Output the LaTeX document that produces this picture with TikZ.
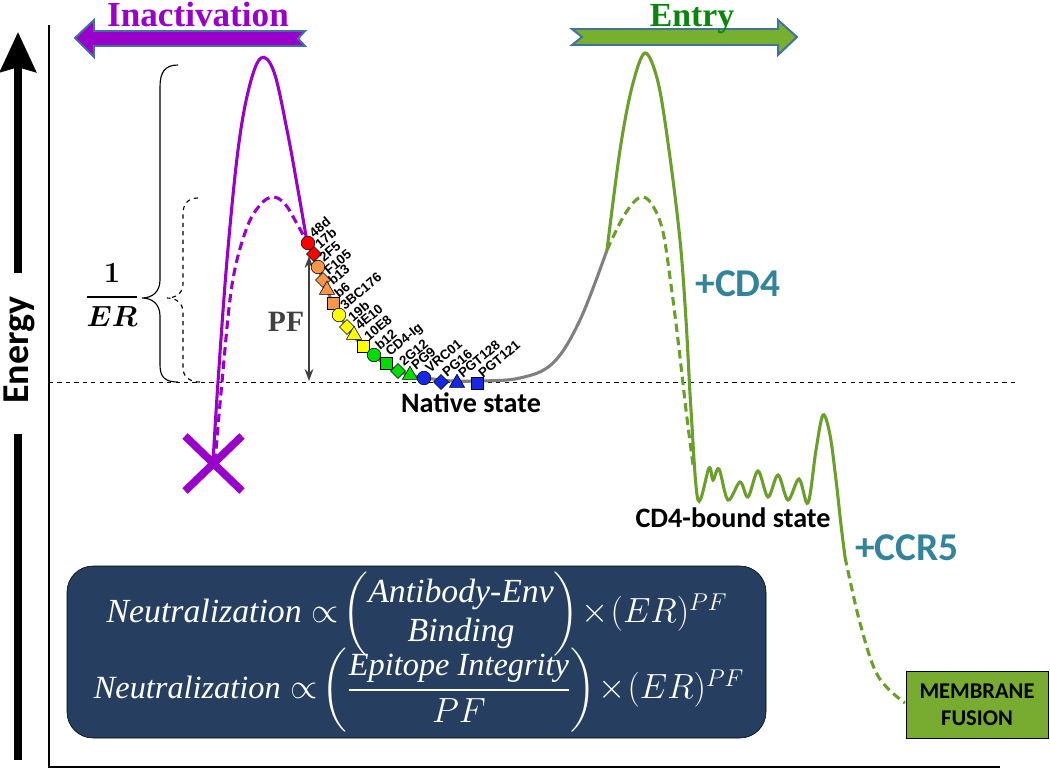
\documentclass[tikz,border=0pt]{standalone}
\usepackage{amsmath}
\usepackage{fontspec}
\setmainfont{Liberation Serif}
\newfontfamily\calib{Carlito}
\newfontfamily\arial{Liberation Sans}
\usetikzlibrary{arrows.meta,shapes.geometric}
\definecolor{inpurple}{RGB}{153,0,204}
\definecolor{arrowblue}{RGB}{65,113,156}
\definecolor{entryfill}{RGB}{118,176,46}
\definecolor{entrytext}{RGB}{10,135,10}
\definecolor{curvegreen}{RGB}{106,160,42}
\definecolor{addteal}{RGB}{49,132,155}
\definecolor{boxnavy}{RGB}{38,62,95}
\definecolor{fusion}{RGB}{119,172,48}
\definecolor{mred}{RGB}{255,0,0}
\definecolor{morange}{RGB}{247,150,70}
\definecolor{myellow}{RGB}{255,255,0}
\definecolor{mgreen}{RGB}{0,220,0}
\definecolor{mblue}{RGB}{20,40,230}

\begin{document}
\begin{tikzpicture}[x=0.025cm,y=-0.025cm,
	mk/.style={draw=black,line width=0.4pt,inner sep=0pt},
	mc/.style={mk,circle,minimum size=0.34cm},
	md/.style={mk,diamond,minimum size=0.38cm},
	mt/.style={mk,regular polygon,regular polygon sides=3,minimum size=0.44cm},
	ms/.style={mk,rectangle,minimum size=0.3cm},
	mlabel/.style={font=\arial\bfseries\fontsize{9.5}{10}\selectfont,rotate=40,anchor=south west,inner sep=0.5pt},
	bigarrow/.style={draw=arrowblue,line width=1.4pt},
	curve/.style={line width=2.2pt,line cap=round},
	dcurve/.style={line width=2.2pt,dash pattern=on 6pt off 3.5pt},
	state/.style={font=\calib\bfseries\fontsize{20}{22}\selectfont},
	adds/.style={font=\calib\bfseries\fontsize{28}{30}\selectfont,text=addteal}]
	\useasboundingbox (0,0) rectangle (1050,770);
	% axes and baseline
	\draw[line width=1.1pt] (49,25) -- (49,767) -- (1000,767);
	\draw[dashed,line width=0.6pt] (49,382) -- (1015,382);
	\node[font=\calib\bfseries\fontsize{27}{30}\selectfont,rotate=90] (energy) at (19,350) {Energy};
	\draw[line width=5pt] (18,760) -- (18,434);
	\draw[line width=5pt,-{Stealth[length=1cm,width=0.9cm,inset=0.12cm]}] (18,273) -- (18,32);
	% direction arrows
	\draw[bigarrow,fill=inpurple] (75,38) -- (94,20) -- (94,31) -- (305,31) -- (298,38.5) -- (305,46) -- (94,46) -- (94,57) -- cycle;
	\node[font=\bfseries\fontsize{25}{30}\selectfont,text=inpurple,anchor=base,inner sep=1pt] (inact) at (198,26) {Inactivation};
	\draw[bigarrow,fill=entryfill] (797,37) -- (778,20) -- (778,29) -- (572,29) -- (582,37) -- (572,45) -- (778,45) -- (778,55) -- cycle;
	\node[font=\bfseries\fontsize{24}{30}\selectfont,text=entrytext,anchor=base,inner sep=1pt] (entry) at (692,26) {Entry};
	% braces
	\draw[line width=0.8pt] (178,65) .. controls (165,65) and (160,72) .. (160,87) -- (160,280) .. controls (160,292) and (152,298) .. (142,298) .. controls (152,298) and (160,304) .. (160,316) -- (160,365) .. controls (160,377) and (165,382) .. (178,382);
	\draw[dashed,line width=0.8pt] (198,198) .. controls (188,198) and (183,204) .. (183,214) -- (183,284) .. controls (183,293) and (176,298) .. (167,298) .. controls (176,298) and (183,303) .. (183,312) -- (183,368) .. controls (183,377) and (190,382) .. (200,382);
	\node (ratio) at (112,295) {\fontsize{20}{24}\selectfont$\boldsymbol{\dfrac{1}{ER}}$};
	% inactivation barriers
	\draw[curve,inpurple] plot[smooth,tension=0.6] coordinates {(213,462) (218,382) (227,260) (238,150) (249,88) (261,58) (274,72) (287,130) (298,190) (307,242)};
	\draw[dcurve,inpurple] plot[smooth,tension=0.6] coordinates {(215,462) (222,382) (232,285) (246,230) (260,205) (273,197) (285,204) (296,222) (307,242)};
	\draw[line width=5.5pt,inpurple] (185,436) -- (242,491) (242,436) -- (185,491);
	% native well
	\draw[line width=2.2pt,gray] plot[smooth,tension=0.6] coordinates {(308,243) (323,280) (339,315) (363,346) (398,371) (441,380) (478,381) (520,378) (553,363) (580,320) (607,250)};
	% entry barriers
	\draw[curve,curvegreen] plot[smooth,tension=0.55] coordinates {(607,250) (620,150) (632,87) (645,53) (658,82) (669,150) (680,240) (686,320) (691,410) (698,500) (709,468) (713,480) (719,469) (728,500) (740,482) (748,497) (758,471) (768,497) (778,475) (788,500) (799,479) (808,503) (816,450) (823,415) (830,435) (836,480) (841,525) (845,557)};
	\draw[dcurve,curvegreen] plot[smooth,tension=0.6] coordinates {(607,250) (621,221) (633,203) (643,197) (653,206) (663,232) (671,285) (678,340) (686,410) (693,465)};
	\draw[dcurve,curvegreen] plot[smooth,tension=0.6] coordinates {(845,557) (860,623) (878,676) (905,703)};
	% PF
	\coordinate (pftop) at (309,256);
	\coordinate (pfbot) at (309,381);
	\draw[line width=1.1pt,darkgray,{Stealth[length=0.3cm,width=0.22cm]}-{Stealth[length=0.3cm,width=0.22cm]}] (pftop) -- (pfbot);
	\node[font=\bfseries\fontsize{21}{24}\selectfont,text=darkgray] (pf) at (286,322) {PF};
	% antibody markers
	\foreach \x/\y/\s/\c/\l [count=\i] in {308/243/mc/mred/48d,314/254/md/mred/17b,318/267/mc/morange/2F5,323/280/md/morange/F105,327/290/mt/morange/b13,333/303/ms/morange/b6,339/315/mc/myellow/3BC176,347/327/md/myellow/19b,354/335/mt/myellow/4E10,363/346/ms/myellow/10E8,374/355/mc/mgreen/b12,386/363/ms/mgreen/CD4-Ig,398/371/md/mgreen/2G12,410/375/mt/mgreen/PG9,424/378/mc/mblue/VRC01,441/382/md/mblue/PG16,457/383/mt/mblue/PGT128,477/383/ms/mblue/PGT121}
	{
		\node[\s,fill=\c] (m\i) at (\x,\y) {};
		\node[mlabel] (l\i) at (\x+6,\y-3) {\l};
	}
	% states
	\node[state] (native) at (471,403) {Native state};
	\node[state] (bound) at (733,518) {CD4-bound state};
	\node[adds] (cd4) at (738,284) {+CD4};
	\node[adds] (ccr5) at (907,548) {+CCR5};
	\node[draw=black,line width=0.6pt,fill=fusion,minimum width=3.55cm,minimum height=1.68cm,align=center,font=\calib\bfseries\fontsize{16}{19}\selectfont] (fusion) at (977,705) {MEMBRANE\\FUSION};
	% formulas
	\draw[fill=boxnavy,rounded corners=0.65cm] (67,566) rectangle (766,738);
	\node[text=white] (f1) at (417,614) {\fontsize{24}{28}\selectfont$\mathit{Neutralization}\propto\!\begin{pmatrix}\mathit{Antibody}\text{-}\mathit{Env}\\ \mathit{Binding}\end{pmatrix}\!\times\!(ER)^{PF}$};
	\node[text=white] (f2) at (419,690) {\fontsize{23}{28}\selectfont$\mathit{Neutralization}\propto\!\left(\dfrac{\mathit{Epitope\ Integrity}}{PF}\right)\!\times\!(ER)^{PF}$};
\end{tikzpicture}
\end{document}
